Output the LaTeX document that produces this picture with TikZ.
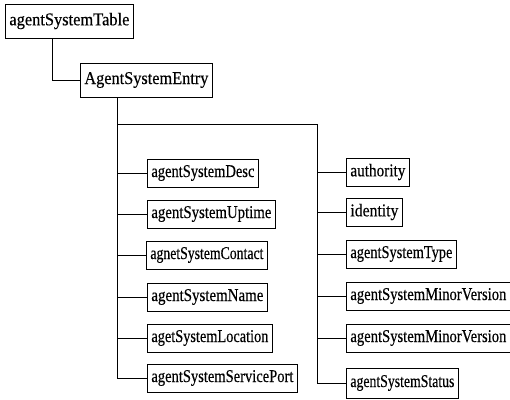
\documentclass[tikz,border=0pt]{standalone}
\usepackage{fontspec}
\usepackage{graphicx}
\setmainfont{Liberation Serif}[FakeBold=0.4]
% squeeze a label horizontally so that it fills a box of width #1 (pt)
\newcommand\fitlabel[2]{%
  \setbox0=\hbox{#2}%
  \pgfmathsetmacro\fitfac{(#1-8)/\the\wd0}%
  \scalebox{\fitfac}[1]{\box0}}
\begin{document}
\begin{tikzpicture}[x=1pt,y=-1pt,
  line width=0.8pt,
  mibbox/.style={draw, anchor=west, inner xsep=4pt, inner ysep=0pt,
    minimum height=28pt, font=\fontsize{18}{19}\selectfont},
  topbox/.style={mibbox, minimum height=34pt},
  link/.style={draw, line width=0.8pt}]
\useasboundingbox (0,0) rectangle (510,399);

% table and entry
\node[topbox] (table) at (5,21) {\fitlabel{128}{agentSystemTable}};
\node[topbox] (entry) at (80,80) {\fitlabel{132}{AgentSystemEntry}};

% left column of objects
\node[mibbox] (desc)     at (147,173) {\fitlabel{111}{agentSystemDesc}};
\node[mibbox] (uptime)   at (147,214) {\fitlabel{128}{agentSystemUptime}};
\node[mibbox] (contact)  at (146,255) {\fitlabel{121}{agnetSystemContact}};
\node[mibbox] (name)     at (147,297) {\fitlabel{120}{agentSystemName}};
\node[mibbox] (location) at (147,338) {\fitlabel{125}{agetSystemLocation}};
\node[mibbox] (port)     at (147,378) {\fitlabel{150}{agentSystemServicePort}};

% right column of objects
\node[mibbox] (authority) at (346,172) {\fitlabel{63}{authority}};
\node[mibbox] (identity)  at (346,212) {\fitlabel{56}{identity}};
\node[mibbox] (type)      at (346,254) {\fitlabel{110}{agentSystemType}};
\node[mibbox] (minorA)    at (346,296) {\makebox[170pt][l]{\fitlabel{164}{agentSystemMinorVersion}}};
\node[mibbox] (minorB)    at (346,338) {\makebox[170pt][l]{\fitlabel{164}{agentSystemMinorVersion}}};
\node[mibbox, minimum height=30pt] (status) at (346,383) {\fitlabel{112}{agentSystemStatus}};

% table -> entry
\draw[link] ([xshift=47pt]table.south west) |- (entry.west);

% trunk under the entry and the bus to the right column
\coordinate (trunk) at ([xshift=37pt]entry.south west);
\coordinate (bus) at (317,124);
\draw[link] (trunk) -- (trunk |- port.west);
\draw[link] (trunk |- bus) -- (bus) -- (bus |- status.west);

% branches, left
\foreach \n in {desc,uptime,contact,name,location,port}
  \draw[link] (trunk |- \n.west) -- (\n.west);
% branches, right
\foreach \n in {authority,identity,type,minorA,minorB,status}
  \draw[link] (bus |- \n.west) -- (\n.west);
\end{tikzpicture}
\end{document}
